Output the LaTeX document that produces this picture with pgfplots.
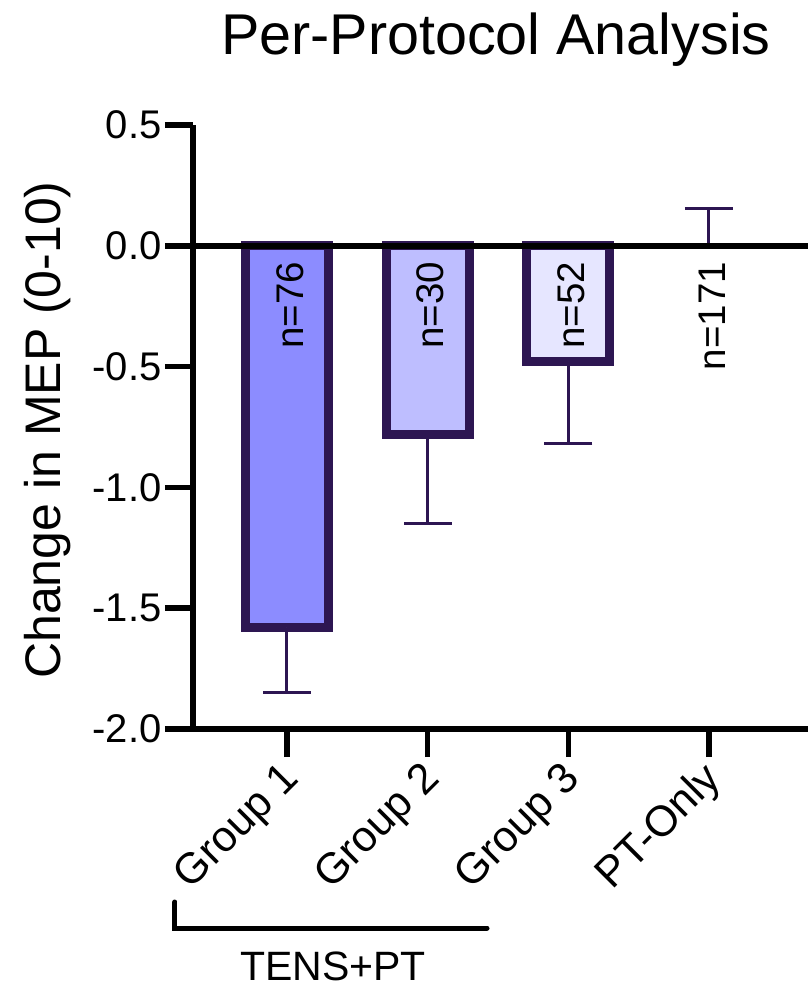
\documentclass[border=0pt]{standalone}
\usepackage{fontspec}
\setmainfont{Liberation Sans}
\usepackage{pgfplots}
\pgfplotsset{compat=1.18}
\definecolor{bord}{RGB}{45,22,82}
\definecolor{c1}{RGB}{140,140,255}
\definecolor{c2}{RGB}{190,190,255}
\definecolor{c3}{RGB}{230,230,255}
\tikzset{nlab/.style={xshift=3pt, yshift=-16pt, rotate=90, anchor=east, inner sep=0pt, font=\fontsize{38.5}{38.5}\selectfont}}
\begin{document}
\begin{tikzpicture}
\begin{axis}[
  at={(0pt,0pt)}, anchor=south west,
  scale only axis, width=615pt, height=604pt,
  xmin=-0.668, xmax=3.704, ymin=-2, ymax=0.5,
  clip=false,
  axis lines=left,
  axis line style={line width=6.5pt, -, black},
  tick align=outside, major tick length=28pt,
  tick style={line width=5.5pt, black},
  ytick={-2,-1.5,-1,-0.5,0,0.5},
  yticklabels={-2.0,-1.5,-1.0,-0.5,0.0,0.5},
  xtick={0,1,2,3},
  xticklabels={Group 1,Group 2,Group 3,PT-Only},
  yticklabel style={font=\fontsize{40}{40}\selectfont},
  xticklabel style={font=\fontsize{43}{43}\selectfont, xshift=6pt, yshift=-16pt, rotate=45, anchor=east, inner sep=0pt},
]
\addplot[ybar, bar width=0.59, bar shift=0pt, fill=c1, draw=bord, line width=9pt,
  error bars/.cd, y dir=minus, y explicit,
  error bar style={line width=3pt, draw=bord},
  error mark options={rotate=90, mark size=24pt, line width=3pt, draw=bord}]
  coordinates {(0,-1.58) -= (0,0.27)};
\addplot[ybar, bar width=0.59, bar shift=0pt, fill=c2, draw=bord, line width=9pt,
  error bars/.cd, y dir=minus, y explicit,
  error bar style={line width=3pt, draw=bord},
  error mark options={rotate=90, mark size=24pt, line width=3pt, draw=bord}]
  coordinates {(1,-0.78) -= (0,0.37)};
\addplot[ybar, bar width=0.59, bar shift=0pt, fill=c3, draw=bord, line width=9pt,
  error bars/.cd, y dir=minus, y explicit,
  error bar style={line width=3pt, draw=bord},
  error mark options={rotate=90, mark size=24pt, line width=3pt, draw=bord}]
  coordinates {(2,-0.48) -= (0,0.34)};
\addplot[draw=none, mark=none,
  error bars/.cd, y dir=plus, y explicit,
  error bar style={line width=3pt, draw=bord},
  error mark options={rotate=90, mark size=24pt, line width=3pt, draw=bord}]
  coordinates {(3,0) += (0,0.155)};
\draw[line width=6.5pt, black] (axis cs:-0.668,0) -- (axis cs:3.704,0);
\node[nlab] at (axis cs:0,0) {n=76};
\node[nlab] at (axis cs:1,0) {n=30};
\node[nlab] at (axis cs:2,0) {n=52};
\node[nlab] at (axis cs:3,0) {n=171};
\end{axis}
\node[anchor=base, font=\fontsize{57.5}{57.5}\selectfont] at (303pt,674pt) {Per-Protocol Analysis};
\node[rotate=90, anchor=base, font=\fontsize{50}{50}\selectfont] at (-132pt,299pt) {Change in MEP (0-10)};
\draw[line width=5pt, line cap=round] (-18pt,-173pt) -- (-18pt,-199pt) -- (294pt,-199pt);
\node[anchor=base, font=\fontsize{41}{41}\selectfont] at (140pt,-251pt) {TENS+PT};
\pgfresetboundingbox
\path[use as bounding box] (-193pt,-254pt) rectangle (615pt,729pt);
\end{tikzpicture}
\end{document}
